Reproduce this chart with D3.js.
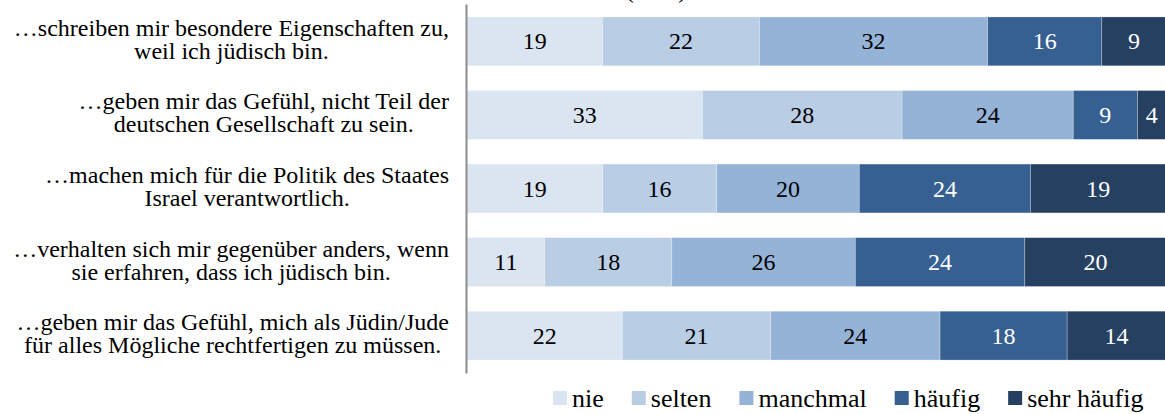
<!DOCTYPE html>
<head>
    <meta charset="utf-8">
    <script src="https://d3js.org/d3.v7.min.js"></script>
    <style>
        body { margin: 0; background: #fff; }
        svg { display: block; font-family: "Liberation Serif", "Times New Roman", serif; }
    </style>
</head>
<body>
    <script>
        // answer options (legend order)
        const options = ["nie", "selten", "manchmal", "häufig", "sehr häufig"];
        // category labels, already broken into lines as in the original
        const items = [
            ["…schreiben mir besondere Eigenschaften zu,", "weil ich jüdisch bin."],
            ["…geben mir das Gefühl, nicht Teil der", "deutschen Gesellschaft zu sein."],
            ["…machen mich für die Politik des Staates", "Israel verantwortlich."],
            ["…verhalten sich mir gegenüber anders, wenn", "sie erfahren, dass ich jüdisch bin."],
            ["…geben mir das Gefühl, mich als Jüdin/Jude", "für alles Mögliche rechtfertigen zu müssen."]
        ];
        const nie = [19, 33, 19, 11, 22];
        const selten = [22, 28, 16, 18, 21];
        const manchmal = [32, 24, 20, 26, 24];
        const haeufig = [16, 9, 24, 24, 18];
        const sehrHaeufig = [9, 4, 19, 20, 14];
        const subtitle = "(in %)";

        const colors = ["#dbe5f1", "#b9cde5", "#95b3d7", "#376092", "#254061"],
            textColors = ["#000", "#000", "#000", "#fff", "#fff"];

        const series = [nie, selten, manchmal, haeufig, sehrHaeufig];
        const rows = items.map((lines, i) => {
            const r = { id: i };
            options.forEach((o, j) => r[o] = series[j][i]);
            return r;
        });

        const W = 1165, H = 414;
        const svg = d3.select("body").append("svg").attr("width", W).attr("height", H);

        const x = d3.scaleLinear().domain([0, 1]).range([467, 1166]),
            y = d3.scaleBand().domain(d3.range(items.length)).range([4, 373])
                .paddingInner(0.336).paddingOuter(0.176);

        const stack = d3.stack().keys(options).offset(d3.stackOffsetExpand)(rows);

        svg.append("text")
            .attr("x", 656).attr("y", -2)
            .attr("text-anchor", "middle")
            .attr("font-size", 24)
            .text(subtitle);

        const layers = svg.append("g").selectAll("g")
            .data(stack)
            .enter().append("g")
            .attr("fill", (d, i) => colors[i]);

        layers.selectAll("rect")
            .data(d => d)
            .enter().append("rect")
            .attr("x", d => x(d[0]))
            .attr("width", d => x(d[1]) - x(d[0]))
            .attr("y", (d, i) => y(i))
            .attr("height", y.bandwidth())
            .attr("stroke", "#fff")
            .attr("stroke-opacity", 0.35)
            .attr("stroke-width", 0.75);

        layers.each(function (layer, k) {
            d3.select(this).selectAll("text")
                .data(layer)
                .enter().append("text")
                .attr("x", d => (x(d[0]) + x(d[1])) / 2)
                .attr("y", (d, i) => y(i) + y.bandwidth() / 2 + 8)
                .attr("text-anchor", "middle")
                .attr("font-size", 24)
                .attr("fill", textColors[k])
                .text(d => d.data[options[k]]);
        });

        // vertical category axis
        const axis = svg.append("g")
            .attr("transform", "translate(466,0)")
            .call(d3.axisLeft(y).tickSize(0).tickFormat(""));
        axis.select(".domain").attr("stroke", "#8c8c8c").attr("stroke-width", 2);

        // category labels: block right-aligned, lines centred in the block
        const labels = svg.append("g").attr("font-size", 24).attr("fill", "#000");
        items.forEach((lines, i) => {
            const g = labels.append("g");
            const cy = y(i) + y.bandwidth() / 2;
            const ts = lines.map((l, j) => g.append("text")
                .attr("y", cy - 5.5 + j * 23)
                .attr("text-anchor", "middle")
                .text(l));
            const w = d3.max(ts, t => t.node().getComputedTextLength());
            ts.forEach(t => t.attr("x", 449 - w / 2));
        });

        // legend
        const legend = svg.append("g").attr("font-size", 26);
        let lx = 553;
        options.forEach((o, i) => {
            legend.append("rect")
                .attr("x", lx).attr("y", 391)
                .attr("width", 14).attr("height", 14)
                .attr("fill", colors[i]);
            const t = legend.append("text")
                .attr("x", lx + 19).attr("y", 407)
                .text(o);
            lx += 19 + t.node().getComputedTextLength() + 28;
        });
    </script>
</body>
